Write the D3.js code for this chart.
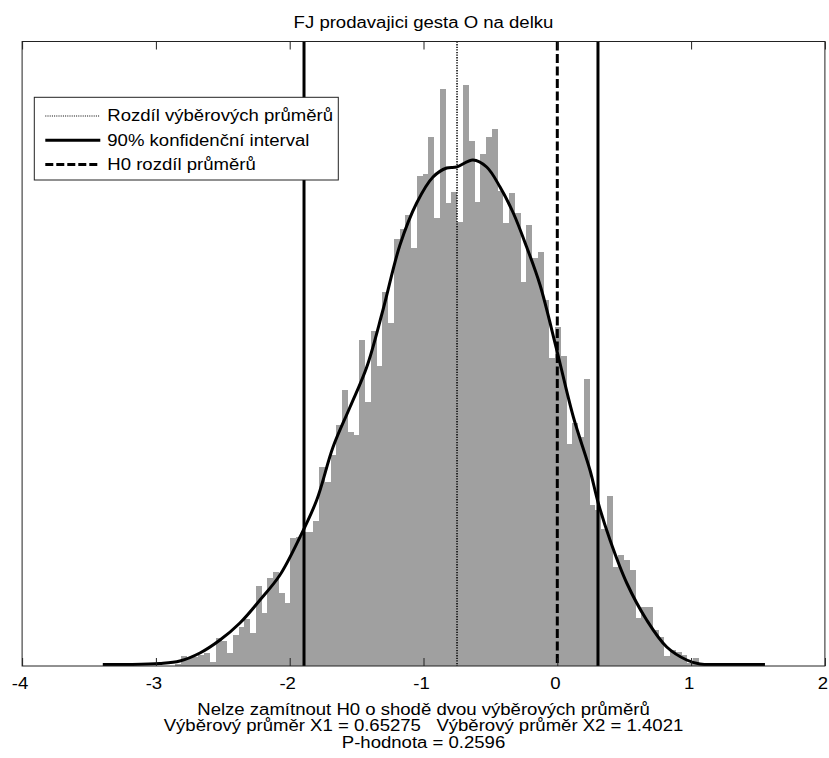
<!DOCTYPE html>
<html>
<head>
<meta charset="utf-8">
<script src="https://cdn.jsdelivr.net/npm/d3@7"></script>
<style>
  body { margin: 0; background: #fff; }
  text { font-family: "Liberation Sans", Arial, sans-serif; font-size: 16px; fill: #000; white-space: pre; }
</style>
</head>
<body>
<div id="chart"></div>
<script>
// histogram of bootstrapped differences (bin start, bin width, counts)
const binStart = -2.9399;
const binWidth = 0.042975;
const counts = [
  0, 0, 2, 10, 8, 9, 11, 13, 4, 28,
  25, 13, 31, 39, 47, 33, 80, 53, 88, 94,
  73, 63, 128, 129, 134, 134, 145, 199, 184, 211,
  241, 276, 234, 231, 326, 264, 335, 300, 374, 343,
  427, 437, 451, 418, 490, 492, 529, 448, 577, 463,
  474, 444, 581, 525, 464, 512, 529, 537, 475, 443,
  473, 453, 384, 441, 408, 414, 366, 308, 339, 310,
  222, 243, 229, 287, 161, 156, 137, 170, 99, 111,
  106, 96, 48, 59, 59, 36, 29, 10, 16, 14,
  11, 3, 8, 3, 2
];

// kernel density estimate, scaled to the histogram
const kdeX = [-3.397, -3.195, -2.971, -2.821, -2.671, -2.521, -2.372, -2.222, -2.073, -1.923,
  -1.798, -1.676, -1.549, -1.424, -1.303, -1.176, -1.051, -0.929, -0.827, -0.752,
  -0.630, -0.528, -0.428, -0.329, -0.229, -0.129, -0.004, 0.120, 0.244, 0.306,
  0.394, 0.519, 0.668, 0.818, 0.967, 1.066, 1.216, 1.552];
const kdeY = [1.5, 1.5, 2.5, 5, 13, 26, 43, 66, 91, 129,
  166, 219, 259, 299, 356, 421, 463, 489, 498, 499,
  506, 499, 479, 453, 419, 381, 316, 249, 196, 163,
  126, 83, 46, 19, 6, 2, 1.5, 1.5];

const meanDiff = -0.7494;
const ciLow = -1.893;
const ciHigh = 0.304;
const h0Diff = 0;

const xTicks = [-4, -3, -2, -1, 0, 1, 2];
const titleText = "FJ prodavajici gesta O na delku";
const legendLabels = ["Rozdíl výběrových průměrů", "90% konfidenční interval", "H0 rozdíl průměrů"];
const footLines = [
  "Nelze zamítnout H0 o shodě dvou výběrových průměrů",
  "Výběrový průměr X1 = 0.65275   Výběrový průměr X2 = 1.4021",
  "P-hodnota = 0.2596"
];

const stretch = 1.16;
const margin = { top: 41.5, right: 4.1, bottom: 92, left: 22.1 },
  width = 829 - margin.left - margin.right,
  height = 758 - margin.top - margin.bottom;

const root = d3
  .select("#chart")
  .append("svg")
  .attr("width", 829)
  .attr("height", 758);

const svg = root
  .append("g")
  .attr("transform", `translate(${margin.left},${margin.top})`);

const x = d3.scaleLinear().domain([-4, 2]).range([0, width]);
const y = d3.scaleLinear().domain([0, 624.5]).range([height, 0]);

// bars
svg
  .append("g")
  .selectAll("rect")
  .data(counts)
  .enter()
  .append("rect")
  .attr("x", (d, i) => x(binStart + i * binWidth))
  .attr("width", x(binWidth) - x(0) + 0.3)
  .attr("y", (d) => y(d))
  .attr("height", (d) => y(0) - y(d))
  .attr("fill", "#a0a0a0")
  .attr("shape-rendering", "crispEdges");

// density curve
const kde = kdeX.map((v, i) => [v, kdeY[i]]);
svg
  .append("path")
  .datum(kde)
  .attr("fill", "none")
  .attr("stroke", "#000")
  .attr("stroke-width", 3)
  .attr("d", d3.line().x((d) => x(d[0])).y((d) => y(d[1])).curve(d3.curveCatmullRom));

// vertical reference lines
const vlines = [
  { v: meanDiff, w: 1.5, dash: "1.3,1.3" },
  { v: ciLow, w: 3, dash: null },
  { v: ciHigh, w: 3, dash: null },
  { v: h0Diff, w: 3, dash: "9,3.5" }
];
svg
  .append("g")
  .selectAll("line")
  .data(vlines)
  .enter()
  .append("line")
  .attr("x1", (d) => x(d.v))
  .attr("x2", (d) => x(d.v))
  .attr("y1", 0)
  .attr("y2", height)
  .attr("stroke", "#000")
  .attr("stroke-width", (d) => d.w)
  .attr("stroke-dasharray", (d) => d.dash);

// axes with inward ticks
const bottomAxis = svg
  .append("g")
  .attr("transform", `translate(0,${height})`)
  .call(
    d3.axisBottom(x)
      .tickValues(xTicks)
      .tickFormat((d) => String(d))
      .tickSizeInner(-8)
      .tickSizeOuter(0)
      .tickPadding(11.6)
  );
bottomAxis.select(".domain").remove();
bottomAxis.selectAll("line").attr("stroke", "#222");
bottomAxis
  .selectAll("text")
  .style("font-size", "16px")
  .style("font-family", '"Liberation Sans", Arial, sans-serif')
  .attr("fill", "#000")
  .attr("transform", `translate(-2.5,0) scale(${stretch},1)`);

const topAxis = svg
  .append("g")
  .call(d3.axisTop(x).tickValues(xTicks).tickSizeInner(-8).tickSizeOuter(0).tickFormat(""));
topAxis.select(".domain").remove();
topAxis.selectAll("line").attr("stroke", "#222");

// frame
svg
  .append("rect")
  .attr("x", 0)
  .attr("y", 0)
  .attr("width", width)
  .attr("height", height)
  .attr("fill", "none")
  .attr("stroke", "#222")
  .attr("stroke-width", 1);

// legend
const legend = root.append("g").attr("transform", "translate(34.3,97.3)");
legend
  .append("rect")
  .attr("width", 304)
  .attr("height", 82.7)
  .attr("fill", "#fff")
  .attr("stroke", "#222")
  .attr("stroke-width", 1);

const legendStyles = [
  { w: 1.2, dash: "1,1.2" },
  { w: 3, dash: null },
  { w: 3, dash: "8,3" }
];
legendLabels.forEach((label, i) => {
  const ly = 18.7 + i * 24.2;
  legend
    .append("line")
    .attr("x1", 11)
    .attr("x2", 66)
    .attr("y1", ly)
    .attr("y2", ly)
    .attr("stroke", "#000")
    .attr("stroke-width", legendStyles[i].w)
    .attr("stroke-dasharray", legendStyles[i].dash);
  legend
    .append("g")
    .attr("transform", `translate(73,${ly + 5.3}) scale(${stretch},1)`)
    .append("text")
    .text(label);
});

// title
root
  .append("g")
  .attr("transform", `translate(${margin.left + width / 2},28) scale(${stretch},1)`)
  .append("text")
  .attr("text-anchor", "middle")
  .text(titleText);

// bottom text lines
footLines.forEach((line, i) => {
  root
    .append("g")
    .attr("transform", `translate(${margin.left + width / 2},${714.5 + i * 16.8}) scale(${stretch},1)`)
    .append("text")
    .attr("text-anchor", "middle")
    .text(line);
});
</script>
</body>
</html>
